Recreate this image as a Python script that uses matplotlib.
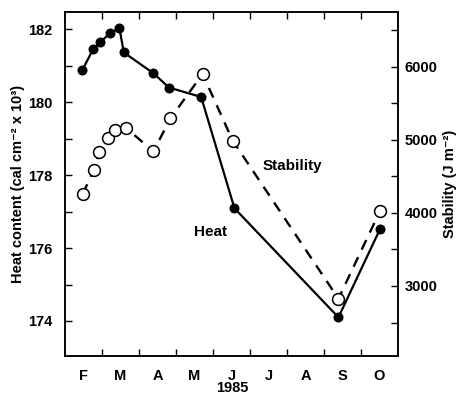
import matplotlib
matplotlib.use('Agg')
import matplotlib.pyplot as plt
from matplotlib.ticker import FixedLocator, MultipleLocator

plt.rcParams['font.family'] = ['Liberation Sans', 'DejaVu Sans']
plt.rcParams['font.weight'] = 'bold'
plt.rcParams['axes.labelweight'] = 'bold'

# months counted from 1 Feb 1985
months = ['F', 'M', 'A', 'M', 'J', 'J', 'A', 'S', 'O']

heat_t = [0.47, 0.76, 0.95, 1.22, 1.47, 1.59, 2.39, 2.81, 3.68, 4.58, 7.39, 8.51]
heat = [180.88, 181.45, 181.64, 181.89, 182.03, 181.36, 180.79, 180.40,
        180.14, 177.09, 174.10, 176.51]

stab_t = [0.48, 0.78, 0.93, 1.15, 1.35, 1.65, 2.39, 2.85, 3.72, 4.53, 7.39, 8.51]
stab = [4259, 4591, 4830, 5025, 5128, 5161, 4841, 5293, 5900, 4990, 2826, 4021]

fig = plt.figure(figsize=(4.6, 3.95), dpi=100)
ax = fig.add_axes([65/460, 1-356/395, 333/460, 344/395])
ax2 = ax.twinx()

ax.plot(heat_t, heat, '-', color='black', lw=1.6, marker='o', ms=6.2,
        mfc='black', mec='black', zorder=3)
ax2.plot(stab_t, stab, color='black', lw=1.7, ls=(0, (4.5, 3.5)), marker='o',
         ms=8.5, mfc='white', mec='black', mew=1.1, zorder=3)

ax.set_xlim(0, 9)
ax.set_ylim(173.04, 182.47)
ax2.set_ylim(2042, 6748)

ax.xaxis.set_major_locator(FixedLocator(range(1, 9)))
ax.xaxis.set_minor_locator(FixedLocator([i + 0.5 for i in range(9)]))
ax.set_xticklabels([])
ax.set_xticklabels(months, minor=True)
ax.tick_params(axis='x', which='major', direction='in', length=5, width=1,
               top=True)
ax.tick_params(axis='x', which='minor', length=0, pad=9, labelsize=10.5)

ax.yaxis.set_major_locator(MultipleLocator(2))
ax.yaxis.set_minor_locator(MultipleLocator(1))
ax.tick_params(axis='y', which='both', direction='in', length=5, width=1,
               labelsize=10.5, pad=9)

ax2.yaxis.set_major_locator(MultipleLocator(1000))
ax2.yaxis.set_minor_locator(MultipleLocator(500))
ax2.tick_params(axis='y', which='both', direction='in', length=5, width=1,
                labelsize=10.5, pad=5)

for a in (ax, ax2):
    for s in a.spines.values():
        s.set_linewidth(1.1)

ax.set_ylabel('Heat content (cal cm⁻² x 10³)', fontsize=10.5, labelpad=2)
ax2.set_ylabel('Stability (J m⁻²)', fontsize=10.5, labelpad=4)

ax.text(6.14, 178.25, 'Stability', ha='center', va='center', fontsize=11)
ax.text(3.92, 176.44, 'Heat', ha='center', va='center', fontsize=11)

fig.text(232/460, 1-388/395, '1985', ha='center', va='center', fontsize=10.5)

fig.savefig('out.png', dpi=100)
